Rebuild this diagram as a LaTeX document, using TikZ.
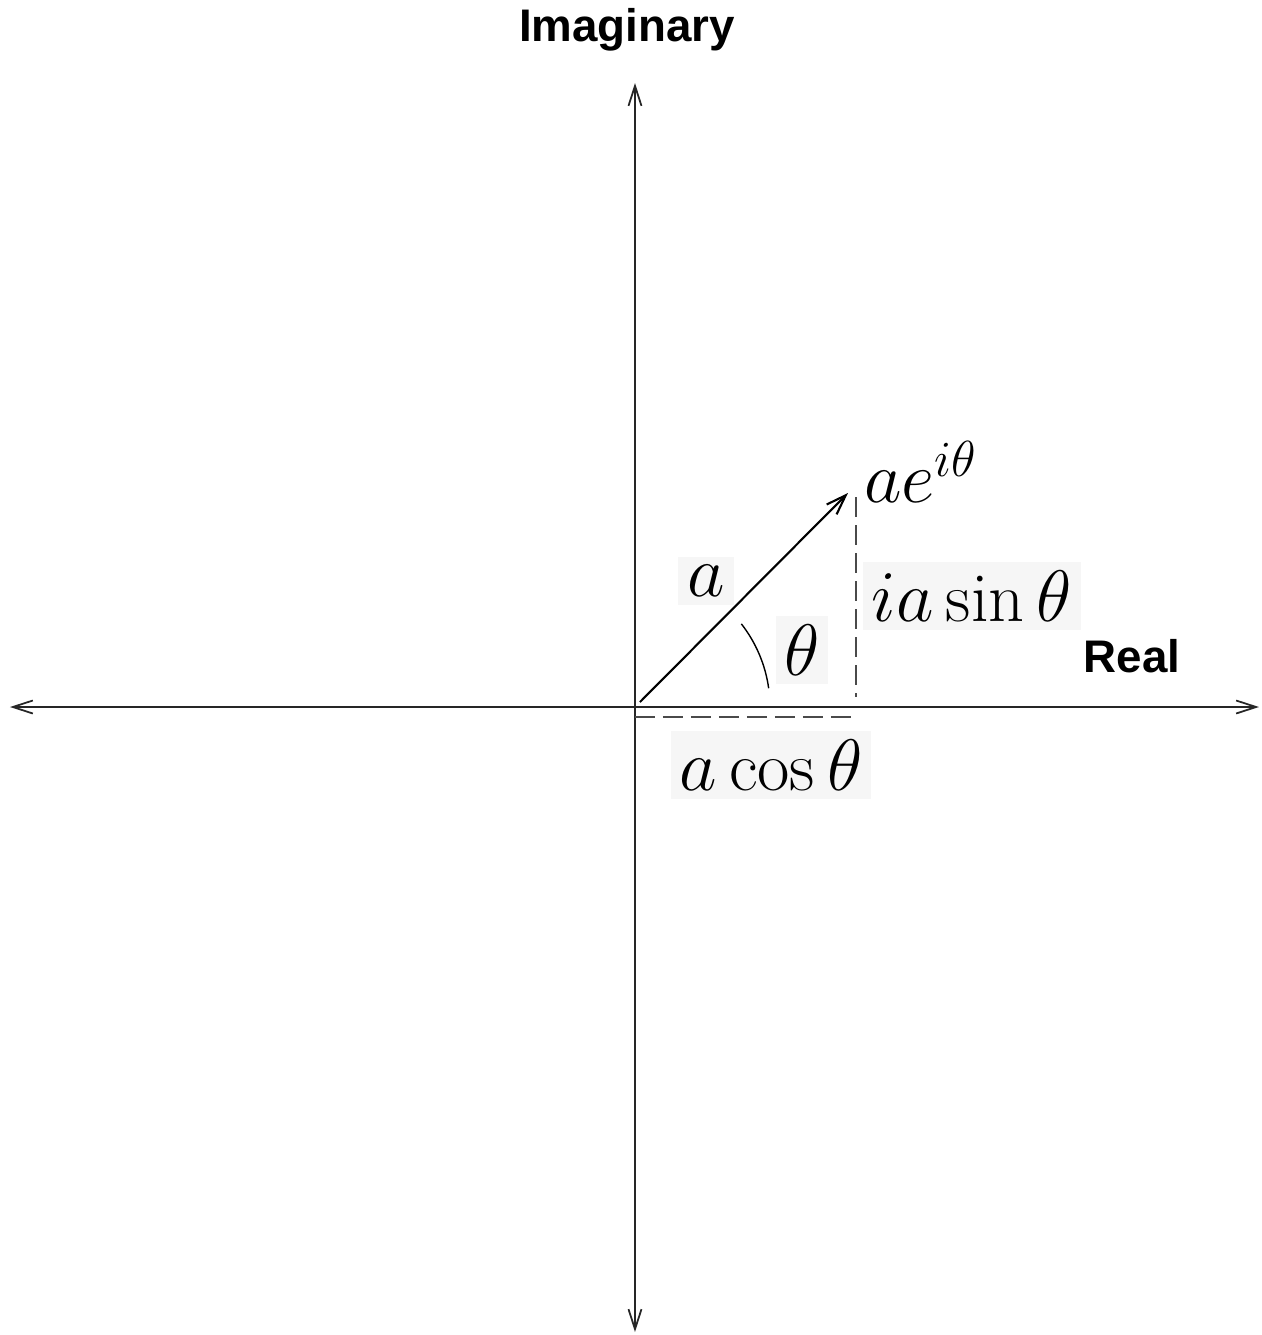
\documentclass[tikz,border=0pt]{standalone}
\usepackage{fontspec}
\setsansfont{Liberation Sans}
\usepackage{tikz}
\usetikzlibrary{arrows.meta, positioning, calc}
\definecolor{fondoEtiqueta}{HTML}{F6F6F6}
\definecolor{grisGuia}{HTML}{4A4A4A}

\begin{document}
\begin{tikzpicture}[
        axis/.style={{Straight Barb[length=2mm, width=1.3mm]}-{Straight Barb[length=2mm, width=1.3mm]}, line width=0.5pt, black!85},
        vec/.style={-{Straight Barb[length=2mm, width=1.4mm]}, line width=0.6pt},
        guide/.style={grisGuia, line width=0.5pt, dash pattern=on 2mm off 0.8mm},
        tag/.style={fill=fondoEtiqueta, inner sep=2.5pt, font=\fontsize{20}{23}\selectfont},
        plain/.style={inner sep=1pt, font=\fontsize{21}{24}\selectfont},
        axlabel/.style={font=\sffamily\bfseries\fontsize{13}{15}\selectfont}
    ]
        \useasboundingbox (-6.35,-6.28) rectangle (6.27,7.07);

        % axes
        \coordinate (O) at (0,0);
        \coordinate (xl) at (-6.25,0);
        \coordinate (xr) at (6.24,0);
        \coordinate (yt) at (0,6.24);
        \coordinate (yb) at (0,-6.25);
        \draw[axis] (xl) -- (xr);
        \draw[axis] (yb) -- (yt);

        \node[axlabel] (imag) at (-0.08,6.77) {Imaginary};
        \node[axlabel] (real) at (4.97,0.51) {Real};

        % vector and its projections
        \coordinate (start) at (0.05,0.05);
        \coordinate (tip) at (2.13,2.14);
        \draw[vec] (start) -- (tip);

        \coordinate (sinTop) at (2.21,2.10);
        \coordinate (sinBot) at (2.21,0.10);
        \coordinate (cosL) at (0,-0.10);
        \coordinate (cosR) at (2.21,-0.10);
        \draw[guide] (sinTop) -- (sinBot);
        \draw[guide] (cosL) -- (cosR);

        \draw[line width=0.4pt] (O) ++(8:1.35) arc[start angle=8, end angle=38, radius=1.35];

        \node[plain, anchor=south west] (phasor) at (2.25,2.0) {$ae^{i\theta}$};
        \node[tag] (mag) at (0.71,1.26) {$a$};
        \node[tag] (ang) at (1.67,0.57) {$\theta$};
        \node[tag] (imPart) at (3.37,1.11) {$ia\sin\theta$};
        \node[tag] (rePart) at (1.36,-0.58) {$a\cos\theta$};
    \end{tikzpicture}
\end{document}
